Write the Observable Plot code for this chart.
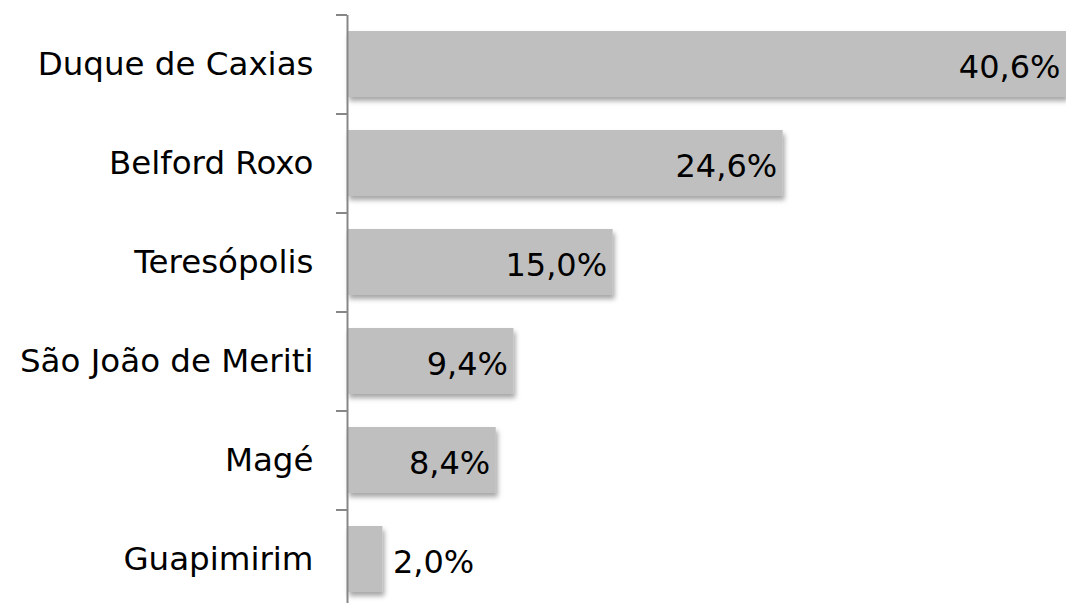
<!DOCTYPE html>
<html>
<head>
<meta charset="utf-8">
<script src="https://cdn.jsdelivr.net/npm/d3@7"></script>
<script src="https://cdn.jsdelivr.net/npm/@observablehq/plot@0.6"></script>
<style>
  html, body { margin: 0; padding: 0; background: #fff; }
  #chart { width: 1066px; height: 603px; overflow: hidden; }
</style>
</head>
<body>
<div id="chart"></div>
<script>
const municipios = ["Duque de Caxias", "Belford Roxo", "Teresópolis", "São João de Meriti", "Magé", "Guapimirim"];
const percentuais = [40.6, 24.6, 15.0, 9.4, 8.4, 2.0];

const data = municipios.map((m, i) => ({municipio: m, valor: percentuais[i]}));
const fmt = v => v.toFixed(1).replace(".", ",") + "%";
const inside = d => d.valor >= 5;

const plot = Plot.plot({
  width: 1066,
  height: 603,
  marginLeft: 347,
  marginRight: 0,
  marginTop: 15,
  marginBottom: -6,
  style: {fontFamily: "'DejaVu Sans', sans-serif", background: "#fff", color: "#000"},
  x: {domain: [0, 40.6], axis: null},
  y: {domain: municipios, paddingInner: 0.33, paddingOuter: 0.165, label: null},
  marks: [
    Plot.barX(data, {x: "valor", y: "municipio", fill: "#bfbfbf"}),
    Plot.axisY({tickSize: 0, tickPadding: 34, fontSize: 32.5, label: null, fill: "#000"}),
    Plot.axisY({tickSize: 11, tickFormat: () => "", dy: -49.5, stroke: "#878787", strokeWidth: 2, label: null}),
    Plot.ruleX([0], {stroke: "#878787", strokeWidth: 2}),
    Plot.text(data.filter(inside), {x: "valor", y: "municipio", text: d => fmt(d.valor), textAnchor: "end", dx: -6, dy: 3, fontSize: 32, fill: "#000"}),
    Plot.text(data.filter(d => !inside(d)), {x: "valor", y: "municipio", text: d => fmt(d.valor), textAnchor: "start", dx: 10, dy: 3, fontSize: 32, fill: "#000"})
  ]
});

// drop shadow on bars
const ns = "http://www.w3.org/2000/svg";
const defs = document.createElementNS(ns, "defs");
defs.innerHTML = '<filter id="barShadow" x="-5%" y="-20%" width="115%" height="160%"><feDropShadow dx="2" dy="4" stdDeviation="2.5" flood-color="#000" flood-opacity="0.35"/></filter>';
plot.insertBefore(defs, plot.firstChild);
const barGroup = plot.querySelector('g[aria-label="bar"]');
if (barGroup) barGroup.setAttribute("filter", "url(#barShadow)");

document.getElementById("chart").appendChild(plot);
</script>
</body>
</html>
